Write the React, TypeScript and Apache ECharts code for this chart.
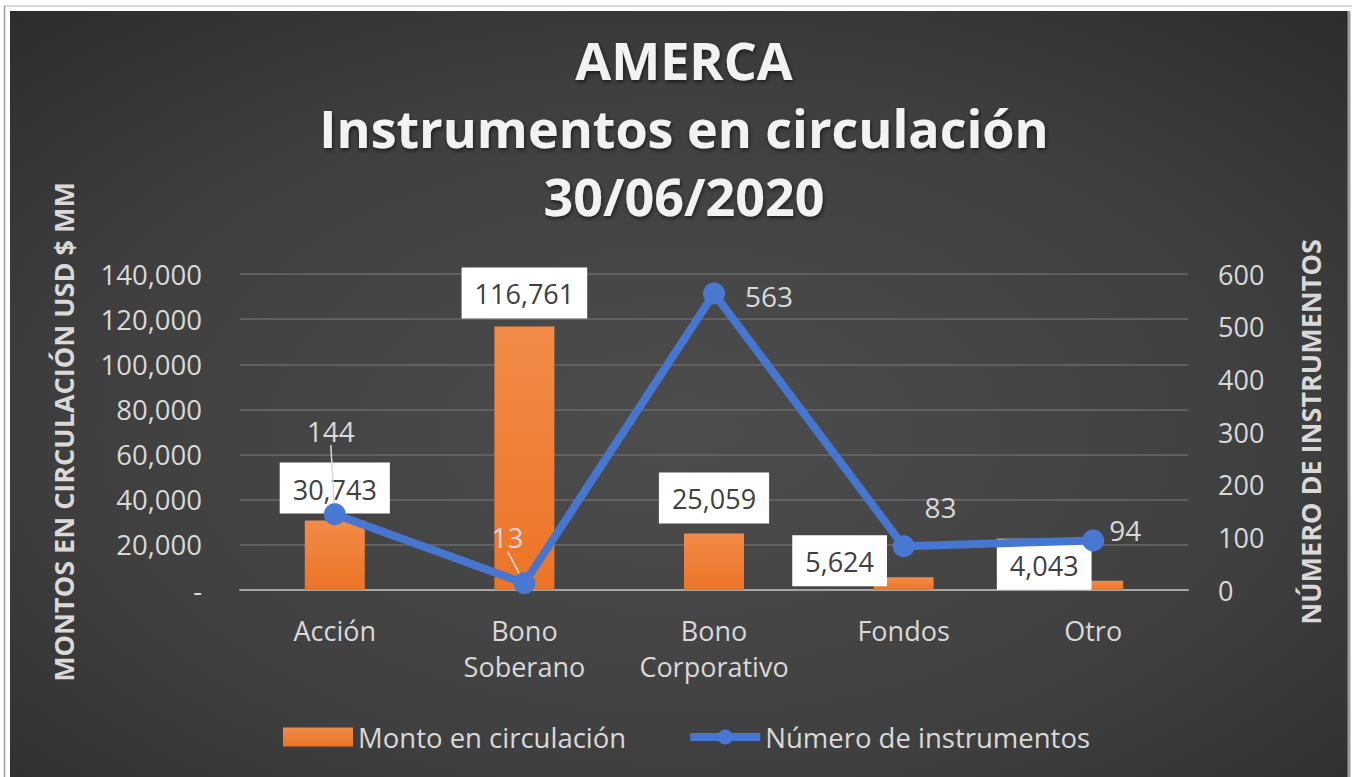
import React, { useEffect, useRef } from "react";
import * as echarts from "echarts";

const categories = ["Acción", "Bono\nSoberano", "Bono\nCorporativo", "Fondos", "Otro"];
const montoValues = [30743, 116761, 25059, 5624, 4043];
const numeroValues = [144, 13, 563, 83, 94];
const seriesNames = ["Monto en circulación", "Número de instrumentos"];
const titleLines = ["AMERCA", "Instrumentos en circulación", "30/06/2020"];
const leftAxisName = "MONTOS EN CIRCULACIÓN USD $ MM";
const rightAxisName = "NÚMERO DE INSTRUMENTOS";

// label displacement (layout only)
const barLabelShift = [[0, 3], [0, 2], [0, 0], [-64, 19], [-49, 19]];
const lineLabelShift = [[-4, -53], [-17, -16], [55, 33], [37, -9], [32, 20]];
const lineLabelGuide = [true, true, false, false, false];

const fmt = (v: number) => v.toLocaleString("en-US");

export default function App() {
  const ref = useRef<HTMLDivElement>(null);
  useEffect(() => {
    if (!ref.current) return;
    const chart = echarts.init(ref.current, undefined, { renderer: "svg" });
    const font = "Open Sans";
    const light = "#d9d9d9";
    chart.setOption({
      animation: false,
      backgroundColor: "#ffffff",
      textStyle: { fontFamily: font },
      graphic: [
        {
          type: "rect",
          z: -10,
          silent: true,
          shape: { x: 10, y: 11, width: 1338, height: 766 },
          style: {
            fill: new echarts.graphic.RadialGradient(0.5, 0.55, 0.75, [
              { offset: 0, color: "#4d4d4d" },
              { offset: 0.6, color: "#3f3f3f" },
              { offset: 1, color: "#2c2c2c" },
            ]),
          },
        },
        { type: "line", z: -10, silent: true, shape: { x1: 4, y1: 6, x2: 1352, y2: 6 }, style: { stroke: "#c8c8c8", lineWidth: 1.5 } },
        { type: "line", z: -10, silent: true, shape: { x1: 4.5, y1: 6, x2: 4.5, y2: 777 }, style: { stroke: "#9a9a9a", lineWidth: 1.5 } },
        { type: "line", z: -10, silent: true, shape: { x1: 1349, y1: 11, x2: 1349, y2: 777 }, style: { stroke: "#9a9a9a", lineWidth: 3 } },
      ],
      title: {
        text: titleLines.join("\n"),
        left: 679,
        textAlign: "center",
        top: 20,
        textStyle: {
          fontFamily: font,
          fontSize: 52,
          fontWeight: "bold",
          lineHeight: 68,
          color: "#f2f2f2",
          textShadowColor: "rgba(0,0,0,0.6)",
          textShadowBlur: 4,
          textShadowOffsetX: 1,
          textShadowOffsetY: 2,
        },
      },
      legend: {
        left: 278,
        top: 718,
        itemWidth: 70,
        itemHeight: 19,
        itemGap: 60,
        textStyle: { color: light, fontSize: 27.5, fontFamily: font },
        data: [
          { name: seriesNames[0], icon: "rect" },
          { name: seriesNames[1], lineStyle: { width: 8 } },
        ],
      },
      grid: { left: 240, right: 164, top: 274, bottom: 187 },
      xAxis: {
        type: "category",
        data: categories,
        axisLine: { lineStyle: { color: "#a6a6a6", width: 2 } },
        axisTick: { show: false },
        axisLabel: { interval: 0, color: light, fontSize: 27, lineHeight: 36, margin: 22, fontFamily: font },
      },
      yAxis: [
        {
          type: "value",
          min: 0,
          max: 140000,
          interval: 20000,
          name: leftAxisName,
          nameLocation: "middle",
          nameRotate: 90,
          nameGap: 163,
          nameTextStyle: { color: light, fontSize: 27, fontWeight: "bold", fontFamily: font },
          axisLine: { show: false },
          axisTick: { show: false },
          axisLabel: {
            color: light,
            fontSize: 27.5,
            margin: 38,
            fontFamily: font,
            formatter: (v: number) => (v === 0 ? "-" : fmt(v)),
          },
          splitLine: { lineStyle: { color: "#6a6a6a", width: 1.5 } },
        },
        {
          type: "value",
          min: 0,
          max: 600,
          interval: 100,
          name: rightAxisName,
          nameLocation: "middle",
          nameRotate: 90,
          nameGap: 109,
          nameTextStyle: { color: light, fontSize: 27, fontWeight: "bold", fontFamily: font },
          axisLine: { show: false },
          axisTick: { show: false },
          axisLabel: { color: light, fontSize: 27, margin: 30, fontFamily: font },
          splitLine: { show: false },
        },
      ],
      series: [
        {
          name: seriesNames[0],
          type: "bar",
          yAxisIndex: 0,
          data: montoValues,
          barWidth: 60,
          z: 2,
          itemStyle: {
            color: new echarts.graphic.LinearGradient(0, 0, 0, 1, [
              { offset: 0, color: "#f28b48" },
              { offset: 1, color: "#ec7426" },
            ]),
          },
          label: {
            show: true,
            position: "top",
            distance: 10,
            formatter: (p: any) => fmt(p.value),
            color: "#404040",
            fontSize: 27,
            fontFamily: font,
            backgroundColor: "#ffffff",
            padding: [13, 13, 11, 13],
          },
          labelLayout: (p: any) => ({ dx: barLabelShift[p.dataIndex][0], dy: barLabelShift[p.dataIndex][1] }),
        },
        {
          name: seriesNames[1],
          type: "line",
          yAxisIndex: 1,
          z: 3,
          data: numeroValues.map((v, i) => ({ value: v, labelLine: { show: lineLabelGuide[i] } })),
          lineStyle: { color: "#4676d0", width: 8 },
          itemStyle: { color: "#4878d2" },
          symbol: "circle",
          symbolSize: 22,
          label: {
            show: true,
            position: "top",
            distance: 5,
            color: light,
            fontSize: 28,
            fontFamily: font,
          },
          labelLine: { show: false, lineStyle: { color: "#d9d9d9", width: 1.5 } },
          labelLayout: (p: any) => ({ dx: lineLabelShift[p.dataIndex][0], dy: lineLabelShift[p.dataIndex][1] }),
        },
      ],
    });
    return () => chart.dispose();
  }, []);
  return (
    <div
      ref={ref}
      style={{ position: "absolute", left: 0, top: 0, width: 1352, height: 777 }}
    />
  );
}
